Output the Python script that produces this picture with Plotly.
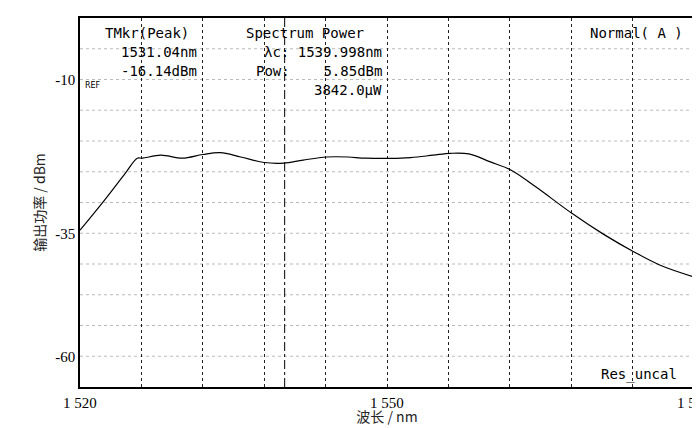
import plotly.graph_objects as go

# 光谱数据 (nm, dBm)
波长 = [1520.0, 1522.4, 1524.4, 1525.6, 1526.1, 1527.9, 1530.0, 1532.0, 1533.7, 1535.7,
        1538.0, 1539.9, 1541.8, 1544.1, 1546.2, 1547.9, 1552.3, 1554.5, 1556.2, 1558.0,
        1560.1, 1562.1, 1564.5, 1568.1, 1571.1, 1574.1, 1576.7, 1580.0]
功率 = [-34.5, -29.6, -25.3, -22.8, -22.8, -22.3, -22.8, -22.2, -21.9, -22.6,
        -23.5, -23.6, -23.1, -22.6, -22.6, -22.8, -22.7, -22.3, -22.0, -22.1,
        -23.4, -24.7, -27.4, -31.8, -35.1, -38.0, -40.2, -42.1]
y刻度值 = [-10, -35, -55]
y刻度文字 = ["-10", "-35", "-60"]
x刻度值 = [1520, 1550, 1580]
x刻度文字 = ["1 520", "1 550", "1 580"]
标记波长 = 1540.0

fig = go.Figure()
fig.add_trace(go.Scatter(x=波长, y=功率, mode="lines", line=dict(color="black", width=1.2),
                         line_shape="spline", showlegend=False))
fig.add_trace(go.Scatter(x=[标记波长, 标记波长], y=[-60, 0], mode="lines",
                         line=dict(color="black", width=1, dash="dashdot"), showlegend=False))

mono = dict(family="DejaVu Sans Mono", size=14, color="black")
注释 = [
    (0.109, 0.96, "TMkr(Peak)", "center"),
    (0.193, 0.908, "1531.04nm", "right"),
    (0.193, 0.856, "-16.14dBm", "right"),
    (0.367, 0.96, "Spectrum Power", "center"),
    (0.495, 0.908, "λc: 1539.998nm", "right"),
    (0.495, 0.856, "Pow:    5.85dBm", "right"),
    (0.495, 0.804, "3842.0μW", "right"),
    (0.985, 0.96, "Normal( A )", "right"),
    (0.975, 0.034, "Res_uncal", "right"),
]
for x, y, t, a in 注释:
    fig.add_annotation(x=x, y=y, xref="paper", yref="paper", text=t, showarrow=False,
                       xanchor=a, yanchor="middle", font=mono)
fig.add_annotation(x=0.005, y=0.836, xref="paper", yref="paper", text="REF", showarrow=False,
                   xanchor="left", font=dict(family="DejaVu Sans", size=8, color="black"))
for v, t in zip(x刻度值, x刻度文字):
    fig.add_annotation(x=v, y=0, xref="x", yref="paper", yshift=-6, text=t, showarrow=False,
                       yanchor="top", font=dict(family="Liberation Serif", size=15, color="black"))

fig.update_layout(
    width=700, height=428, template="simple_white",
    margin=dict(l=72, r=14, t=8, b=49),
    xaxis=dict(range=[1520, 1580], showgrid=True, gridcolor="#222", griddash="dot",
               tick0=1520, dtick=6, showticklabels=False, ticks="", mirror=True,
               linecolor="black", linewidth=1.5, zeroline=False,
               title=dict(text="波长 / nm", font=dict(family="Noto Sans CJK SC", size=14), standoff=24)),
    yaxis=dict(range=[-60, 0], showgrid=False, tickvals=y刻度值, ticktext=y刻度文字, ticks="",
               mirror=True, linecolor="black", linewidth=1.5, zeroline=False,
               tickfont=dict(family="Liberation Serif", size=15, color="black"),
               title=dict(text="输出功率 / dBm", font=dict(family="Noto Sans CJK SC", size=14), standoff=6)),
)
# 网格线每 5 dB
for g in range(-55, 0, 5):
    fig.add_shape(type="line", xref="paper", x0=0, x1=1, yref="y", y0=g, y1=g,
                  line=dict(color="#222", width=1, dash="dot"), layer="below")
fig.write_html("out.html")
